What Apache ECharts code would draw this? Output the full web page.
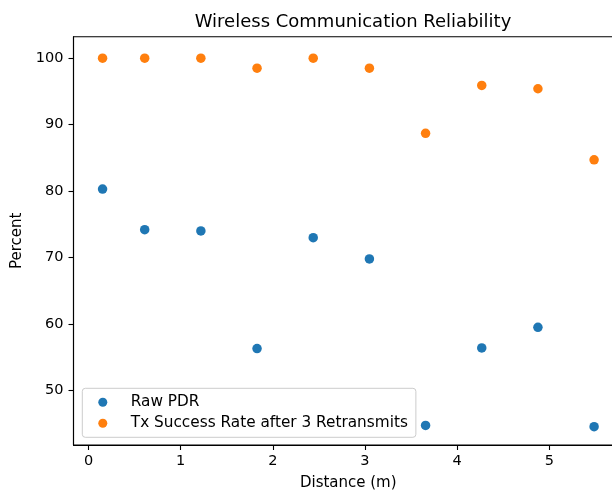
<!DOCTYPE html>
<html>
<head>
<meta charset="utf-8">
<script src="https://cdn.jsdelivr.net/npm/echarts@6/dist/echarts.min.js"></script>
<style>
html,body{margin:0;padding:0;background:#fff;}
#chart{width:612px;height:491px;}
</style>
</head>
<body>
<div id="chart"></div>
<script>
const distances = [0.1524, 0.6096, 1.2192, 1.8288, 2.4384, 3.048, 3.6576, 4.2672, 4.8768, 5.4864];
const rawPDR = [80.3, 74.2, 74.0, 56.3, 73.0, 69.8, 44.75, 56.4, 59.5, 44.55];
const txSuccess = [100, 100, 100, 98.5, 100, 98.5, 88.7, 95.9, 95.4, 84.7];
const xTicks = [0, 1, 2, 3, 4, 5];
const yTicks = [50, 60, 70, 80, 90, 100];
const seriesNames = ['Raw PDR', 'Tx Success Rate after 3 Retransmits'];

const font = 'DejaVu Sans';
const chart = echarts.init(document.getElementById('chart'), null, {renderer: 'canvas'});
const pair = (ys) => distances.map((x, i) => [x, ys[i]]);

chart.setOption({
  animation: false,
  backgroundColor: '#ffffff',
  title: {
    text: 'Wireless Communication Reliability',
    left: 348, textAlign: 'center', top: 8,
    textStyle: {fontFamily: font, fontSize: 18, fontWeight: 'normal', color: '#000'}
  },
  grid: {
    left: 73.5, right: -11, top: 36.7, bottom: 46,
    outerBoundsMode: 'none', containLabel: false,
    show: true, borderColor: '#000', borderWidth: 1.1, backgroundColor: 'transparent'
  },
  legend: {
    orient: 'vertical', left: 82.3, top: 388.3,
    data: seriesNames,
    icon: 'circle', itemWidth: 10, itemHeight: 9, itemGap: 5,
    padding: [6, 8, 6, 16],
    backgroundColor: 'rgba(255,255,255,0.8)', borderColor: '#cccccc', borderWidth: 1, borderRadius: 3,
    textStyle: {fontFamily: font, fontSize: 15.3, color: '#000', lineHeight: 16, padding: [0, 0, 0, 18]}
  },
  xAxis: {
    type: 'value', min: -0.163, max: 5.80,
    name: 'Distance (m)', nameLocation: 'middle', nameGap: 31,
    nameTextStyle: {fontFamily: font, fontSize: 15, color: '#000'},
    axisLine: {show: true, onZero: false, lineStyle: {color: '#000', width: 1.1}},
    axisTick: {show: true, inside: false, length: 5, customValues: xTicks, lineStyle: {color: '#000', width: 1.1}},
    axisLabel: {show: true, margin: 9, customValues: xTicks, fontFamily: font, fontSize: 14.5, color: '#000'},
    splitLine: {show: false}
  },
  yAxis: {
    type: 'value', min: 41.8, max: 103.23,
    name: 'Percent', nameLocation: 'middle', nameGap: 43,
    nameTextStyle: {fontFamily: font, fontSize: 15, color: '#000'},
    axisLine: {show: true, onZero: false, lineStyle: {color: '#000', width: 1.1}},
    axisTick: {show: true, inside: false, length: 5, customValues: yTicks, lineStyle: {color: '#000', width: 1.1}},
    axisLabel: {show: true, margin: 10, customValues: yTicks, fontFamily: font, fontSize: 14.5, color: '#000'},
    splitLine: {show: false}
  },
  series: [
    {name: seriesNames[0], type: 'scatter', data: pair(rawPDR), symbol: 'circle', symbolSize: 9.5, itemStyle: {color: '#1f77b4', opacity: 1}},
    {name: seriesNames[1], type: 'scatter', data: pair(txSuccess), symbol: 'circle', symbolSize: 9.5, itemStyle: {color: '#ff7f0e', opacity: 1}}
  ]
});
</script>
</body>
</html>
